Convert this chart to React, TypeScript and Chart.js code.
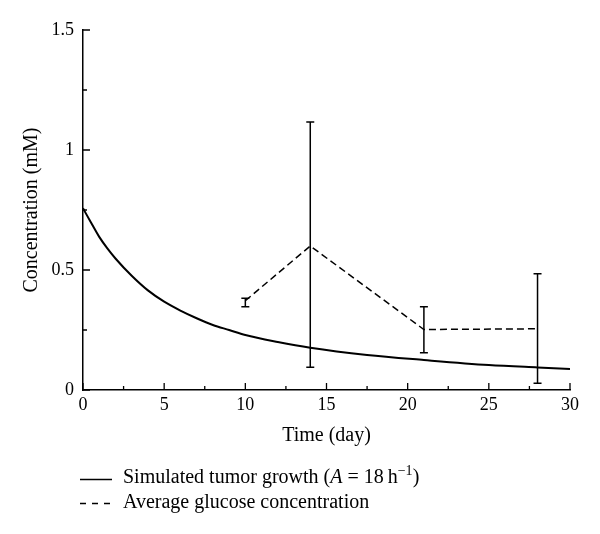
import React, { useEffect, useRef } from "react";
import { Chart, registerables } from "chart.js";

Chart.register(...registerables);

// Simulated tumor growth curve (A = 18 h^-1)
const simTime = [0, 0.5, 1, 1.5, 2, 3, 4, 5, 6, 7, 8, 9, 10, 12, 14, 17.5, 21, 25, 28, 30];
const simConc = [0.757, 0.697, 0.638, 0.59, 0.548, 0.476, 0.415, 0.368, 0.331, 0.299, 0.271, 0.25, 0.229, 0.2, 0.176, 0.146, 0.125, 0.104, 0.094, 0.088];

// Average glucose concentration with error bars
const gluTime = [10, 14, 21, 28];
const gluMean = [0.372, 0.6, 0.252, 0.255];
const gluLow = [0.347, 0.095, 0.155, 0.028];
const gluHigh = [0.382, 1.117, 0.347, 0.484];

// Axis ticks
const xMajorTicks = [0, 5, 10, 15, 20, 25, 30];
const xMinorTicks = [2.5, 7.5, 12.5, 17.5, 22.5, 27.5];
const yMajorTicks = [0, 0.5, 1, 1.5];
const yMinorTicks = [0.25, 0.75, 1.25];
const yTickLabels = ["0", "0.5", "1", "1.5"];

const FONT = "'Liberation Serif', 'Times New Roman', serif";

const customPlugin = {
  id: "errorBarsAndTicks",
  afterDatasetsDraw(chart: any) {
    const { ctx, chartArea, scales } = chart;
    const x = scales.x;
    const y = scales.y;
    ctx.save();
    ctx.strokeStyle = "#000";
    ctx.lineWidth = 1.5;
    // error bars
    gluTime.forEach((t, i) => {
      const px = x.getPixelForValue(t);
      const top = y.getPixelForValue(gluHigh[i]);
      const bot = y.getPixelForValue(gluLow[i]);
      ctx.beginPath();
      ctx.moveTo(px, top);
      ctx.lineTo(px, bot);
      ctx.moveTo(px - 4, top);
      ctx.lineTo(px + 4, top);
      ctx.moveTo(px - 4, bot);
      ctx.lineTo(px + 4, bot);
      ctx.stroke();
    });
    // inward ticks
    ctx.lineWidth = 1.3;
    ctx.beginPath();
    const drawY = (v: number, len: number) => {
      const py = y.getPixelForValue(v);
      ctx.moveTo(chartArea.left, py);
      ctx.lineTo(chartArea.left + len, py);
    };
    const drawX = (v: number, len: number) => {
      const px = x.getPixelForValue(v);
      ctx.moveTo(px, chartArea.bottom);
      ctx.lineTo(px, chartArea.bottom - len);
    };
    yMajorTicks.forEach((v) => drawY(v, 7));
    yMinorTicks.forEach((v) => drawY(v, 4));
    xMajorTicks.forEach((v) => drawX(v, 7));
    xMinorTicks.forEach((v) => drawX(v, 4));
    ctx.stroke();
    ctx.restore();
  },
};

export default function App() {
  const canvasRef = useRef<HTMLCanvasElement | null>(null);

  useEffect(() => {
    if (!canvasRef.current) return;
    const chart = new Chart(canvasRef.current, {
      type: "line",
      data: {
        datasets: [
          {
            label: "Simulated tumor growth",
            data: simTime.map((t, i) => ({ x: t, y: simConc[i] })),
            borderColor: "#000",
            borderWidth: 2,
            pointRadius: 0,
            cubicInterpolationMode: "monotone",
            fill: false,
          },
          {
            label: "Average glucose concentration",
            data: gluTime.map((t, i) => ({ x: t, y: gluMean[i] })),
            borderColor: "#000",
            borderWidth: 1.5,
            borderDash: [7, 4],
            pointRadius: 0,
            tension: 0,
            fill: false,
          },
        ],
      },
      options: {
        animation: false,
        responsive: false,
        layout: { padding: { left: 0, top: 30, right: 30, bottom: 86 } },
        plugins: { legend: { display: false }, tooltip: { enabled: false } },
        scales: {
          x: {
            type: "linear",
            min: 0,
            max: 30,
            afterBuildTicks: (s: any) => {
              s.ticks = xMajorTicks.map((v) => ({ value: v }));
            },
            afterFit: (s: any) => {
              s.height = 58;
            },
            ticks: {
              color: "#000",
              font: { family: FONT, size: 18 },
              padding: 4,
              maxRotation: 0,
              callback: (v: any) => String(v),
            },
            grid: { color: "rgba(0,0,0,0)", drawTicks: false },
            border: { display: true, color: "#000", width: 1.5 },
            title: {
              display: true,
              text: "Time (day)",
              color: "#000",
              font: { family: FONT, size: 20, lineHeight: 1.2 },
              padding: { top: 0, bottom: 0 },
            },
          },
          y: {
            type: "linear",
            min: 0,
            max: 1.5,
            afterBuildTicks: (s: any) => {
              s.ticks = yMajorTicks.map((v) => ({ value: v }));
            },
            afterFit: (s: any) => {
              s.width = 83;
            },
            ticks: {
              color: "#000",
              font: { family: FONT, size: 18 },
              padding: 9,
              callback: (v: any) => yTickLabels[yMajorTicks.indexOf(Number(v))] ?? String(v),
            },
            grid: { color: "rgba(0,0,0,0)", drawTicks: false },
            border: { display: true, color: "#000", width: 1.5 },
            title: {
              display: true,
              text: "Concentration (mM)",
              color: "#000",
              font: { family: FONT, size: 20, lineHeight: 1.2 },
              padding: { top: 20, bottom: 0 },
            },
          },
        },
      },
      plugins: [customPlugin],
    } as any);
    return () => chart.destroy();
  }, []);

  const legendText: React.CSSProperties = {
    position: "absolute",
    left: 123,
    fontFamily: FONT,
    fontSize: 20,
    lineHeight: "24px",
    color: "#000",
    whiteSpace: "nowrap",
  };

  return (
    <div style={{ position: "absolute", left: 0, top: 0, width: 600, height: 534, background: "#fff" }}>
      <canvas ref={canvasRef} width={600} height={534} style={{ display: "block" }} />
      <svg width={600} height={534} style={{ position: "absolute", left: 0, top: 0, pointerEvents: "none" }}>
        <line x1={80} y1={479.5} x2={112} y2={479.5} stroke="#000" strokeWidth={1.5} />
        <line x1={80} y1={503.5} x2={112} y2={503.5} stroke="#000" strokeWidth={1.5} strokeDasharray="6,6" />
      </svg>
      <div style={{ ...legendText, top: 464 }}>
        Simulated tumor growth (<i>A</i> = 18{"\u2009"}h<sup style={{ fontSize: "0.7em", lineHeight: 0 }}>−1</sup>)
      </div>
      <div style={{ ...legendText, top: 489 }}>Average glucose concentration</div>
    </div>
  );
}
